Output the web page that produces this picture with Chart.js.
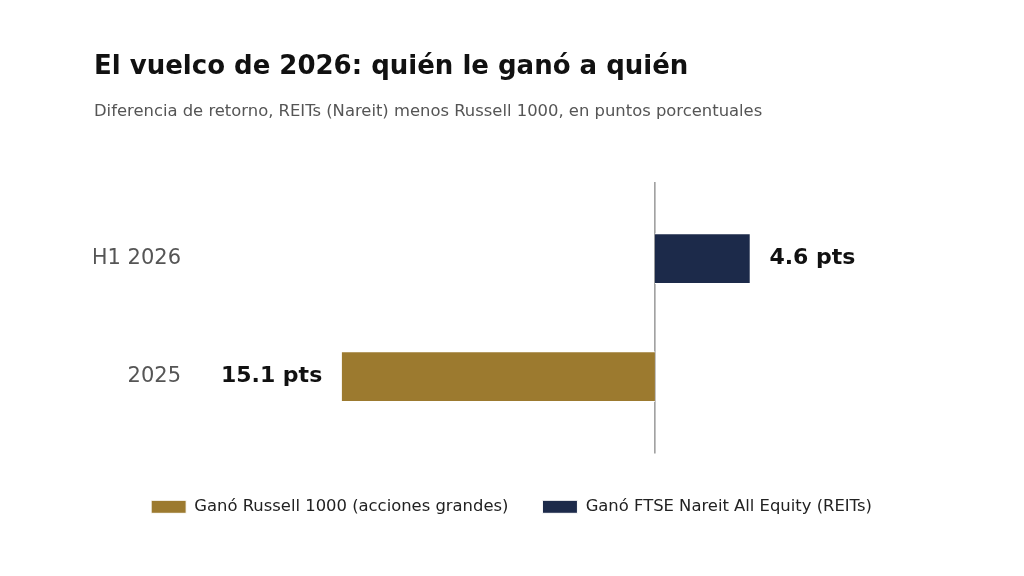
<!DOCTYPE html>
<html>
<head>
<meta charset="utf-8">
<script src="https://cdn.jsdelivr.net/npm/chart.js@4"></script>
<style>
  html, body { margin: 0; padding: 0; background: #fff; }
  #wrap { width: 1024px; height: 576px; position: relative; }
</style>
</head>
<body>
<div id="wrap"><canvas id="chart"></canvas></div>
<script>
// categories bottom to top, spread = REITs minus Russell 1000 (pts)
const categories = ['2025', 'H1 2026'];
const spreadValues = [-15.1, 4.6];
const seriesLabels = ['Ganó Russell 1000 (acciones grandes)', 'Ganó FTSE Nareit All Equity (REITs)'];
const seriesColors = ['#9c7a2f', '#1c2a4a'];

const FONT = "'DejaVu Sans', sans-serif";

// split the spread into the two "winner" series
const russellPoints = [];
const reitPoints = [];
spreadValues.forEach((v, i) => {
  if (v < 0) russellPoints.push({ x: v, y: i });
  else reitPoints.push({ x: v, y: i });
});

// zero line + value labels
const extras = {
  id: 'extras',
  beforeDatasetsDraw(chart) {
    const { ctx, chartArea, scales } = chart;
    const x0 = scales.x.getPixelForValue(0);
    ctx.save();
    ctx.strokeStyle = '#999';
    ctx.lineWidth = 1.5;
    ctx.beginPath();
    ctx.moveTo(x0, chartArea.top);
    ctx.lineTo(x0, chartArea.bottom);
    ctx.stroke();
    ctx.restore();
  },
  afterDatasetsDraw(chart) {
    const { ctx } = chart;
    ctx.save();
    ctx.font = 'bold 22px ' + FONT;
    ctx.fillStyle = '#111';
    ctx.textBaseline = 'middle';
    chart.data.datasets.forEach((ds, di) => {
      chart.getDatasetMeta(di).data.forEach((bar, j) => {
        const v = ds.data[j].x;
        const txt = Math.abs(v).toFixed(1) + ' pts';
        if (v < 0) {
          ctx.textAlign = 'right';
          ctx.fillText(txt, bar.x - 19, bar.y);
        } else {
          ctx.textAlign = 'left';
          ctx.fillText(txt, bar.x + 19, bar.y);
        }
      });
    });
    ctx.restore();
  }
};

new Chart(document.getElementById('chart'), {
  type: 'bar',
  data: {
    datasets: [
      { label: seriesLabels[0], data: russellPoints, backgroundColor: seriesColors[0] },
      { label: seriesLabels[1], data: reitPoints, backgroundColor: seriesColors[1] }
    ]
  },
  options: {
    indexAxis: 'y',
    responsive: true,
    maintainAspectRatio: false,
    animation: false,
    layout: { padding: { left: 94, right: 95, top: 0, bottom: 51 } },
    datasets: {
      bar: { barThickness: 50, grouped: false, borderWidth: 1, borderColor: '#fff' }
    },
    scales: {
      x: {
        type: 'linear',
        min: -21.9,
        max: 13.2,
        grid: { display: false, drawTicks: false },
        border: { display: false },
        ticks: { display: false },
        title: { display: true, text: '', font: { size: 1 }, padding: { top: 10, bottom: 0 } }
      },
      y: {
        type: 'linear',
        min: -0.65,
        max: 1.65,
        offset: false,
        afterBuildTicks(scale) {
          scale.ticks = categories.map((c, i) => ({ value: i }));
        },
        afterFit(scale) { scale.width = 106; },
        grid: { display: false, drawTicks: false },
        border: { display: false },
        ticks: {
          padding: 19,
          color: '#555',
          font: { family: FONT, size: 21 },
          callback: (v) => categories[v]
        }
      }
    },
    plugins: {
      title: {
        display: true,
        text: 'El vuelco de 2026: quién le ganó a quién',
        align: 'start',
        color: '#111',
        font: { family: FONT, size: 26, weight: 'bold' },
        padding: { top: 52, bottom: 19 }
      },
      subtitle: {
        display: true,
        text: 'Diferencia de retorno, REITs (Nareit) menos Russell 1000, en puntos porcentuales',
        align: 'start',
        color: '#555',
        font: { family: FONT, size: 16.4 },
        padding: { top: 0, bottom: 60 }
      },
      legend: {
        position: 'bottom',
        labels: {
          boxWidth: 35,
          boxHeight: 13,
          padding: 34,
          color: '#222',
          font: { family: FONT, size: 16.4 }
        }
      },
      tooltip: { enabled: false }
    }
  },
  plugins: [extras]
});
</script>
</body>
</html>
